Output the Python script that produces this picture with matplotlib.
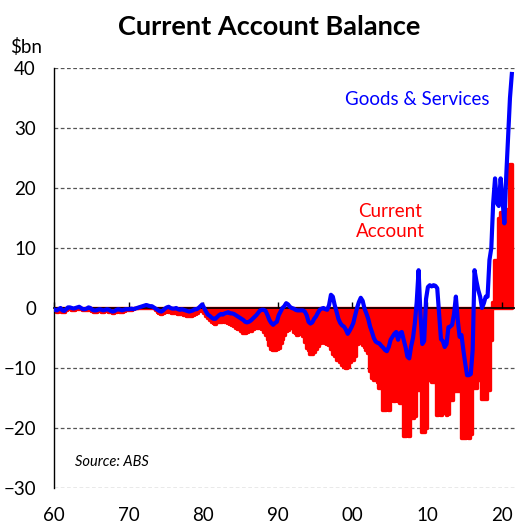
import numpy as np
import matplotlib
matplotlib.use("Agg")
import matplotlib.pyplot as plt

plt.rcParams['font.family'] = ['Lato', 'DejaVu Sans']

# Goods & services balance, $bn, quarterly (Q1..Q4 per row)
gs_1960s = [-0.3, -0.4, -0.2, 0.0, -0.4, -0.5, -0.2, 0.1, 0.1, 0.0, -0.1, 0.0,
            0.1, 0.2, 0.0, -0.2, -0.2, -0.1, 0.1, 0.0, -0.3, -0.4, -0.4, -0.3,
            -0.2, -0.3, -0.4, -0.3, -0.2, -0.3, -0.5, -0.6, -0.5, -0.3, -0.2, -0.3,
            -0.4, -0.3, -0.2, -0.2]
gs_1970s = [-0.2, -0.1, -0.2, -0.1, 0.0, 0.1, 0.2, 0.3, 0.4, 0.5, 0.4, 0.3,
            0.3, 0.1, -0.1, -0.3, -0.5, -0.6, -0.4, -0.1, 0.1, 0.2, 0.0, -0.1,
            -0.1, 0.0, -0.2, -0.3, -0.2, -0.3, -0.4, -0.5, -0.6, -0.5, -0.4, -0.2,
            -0.2, 0.0, 0.3, 0.6]
gs_1980s = [0.0, -0.6, -1.1, -1.3, -1.6, -1.8, -1.8, -1.5, -1.2, -1.0, -1.1, -0.9,
            -0.8, -0.7, -0.9, -0.9, -1.0, -1.2, -1.4, -1.6, -1.8, -2.0, -2.3, -2.4,
            -2.3, -2.1, -1.8, -1.5, -1.2, -0.8, -0.4, -0.3, -0.3, -0.5, -1.2, -2.0,
            -2.5, -2.8, -2.5, -2.3]
gs_1990s = [-1.2, -0.6, 0.0, 0.3, 0.8, 0.6, 0.2, 0.0, -0.1, -0.3, -0.4, -0.4,
            -0.4, -0.4, -0.6, -1.2, -2.3, -2.6, -2.4, -1.8, -1.4, -0.8, -0.3, -0.1,
            0.0, -0.2, -0.3, 0.5, 2.2, 1.9, 0.5, -0.6, -1.8, -2.5, -2.9, -3.1,
            -3.6, -4.3, -3.8, -3.2]
gs_2000s = [-2.5, -1.2, 0.0, 1.0, 1.7, 1.2, -0.1, -0.9, -1.8, -3.1, -4.0, -5.0,
            -5.6, -5.8, -5.9, -6.3, -6.6, -7.0, -7.2, -6.5, -5.3, -4.8, -4.3, -4.0,
            -5.3, -4.2, -4.0, -5.3, -6.5, -8.1, -8.4, -6.4, -5.0, -2.5, 1.0, 6.3,
            -1.0, -6.0, -5.5, 1.5]
gs_2010s = [3.5, 3.8, 3.6, 3.8, 3.7, 3.3, -1.0, -5.2, -5.5, -6.5, -6.0, -3.2,
            -3.1, -2.8, -1.0, 1.9, -2.0, -4.8, -4.5, -7.0, -9.2, -11.2, -11.2, -11.0,
            -7.0, 6.3, 4.5, 3.0, 1.9, 0.0, 0.8, 1.9, 1.9, 8.0, 10.0, 17.5,
            21.6, 17.5, 17.0, 21.6]
gs_2020s = [18.0, 14.1, 22.0, 28.5, 35.0, 39.0]

# Current account balance, $bn, quarterly
ca_1960s = [-0.5, -0.6, -0.5, -0.4, -0.6, -0.7, -0.4, -0.2, -0.2, -0.3, -0.3, -0.2,
            -0.1, -0.1, -0.2, -0.4, -0.4, -0.3, -0.2, -0.3, -0.5, -0.6, -0.6, -0.5,
            -0.5, -0.6, -0.6, -0.5, -0.5, -0.6, -0.7, -0.8, -0.7, -0.6, -0.5, -0.6,
            -0.6, -0.5, -0.4, -0.4]
ca_1970s = [-0.4, -0.3, -0.2, 0.0, 0.0, 0.1, 0.2, 0.2, 0.3, 0.3, 0.2, 0.1,
            0.1, 0.0, -0.3, -0.6, -0.9, -1.0, -0.9, -0.7, -0.5, -0.6, -0.7, -0.9,
            -0.8, -0.9, -1.0, -1.0, -1.0, -1.1, -1.2, -1.3, -1.4, -1.4, -1.2, -1.0,
            -0.8, -0.5, -0.3, -0.5]
ca_1980s = [-0.9, -1.3, -1.7, -2.0, -2.3, -2.5, -2.6, -2.4, -2.3, -2.3, -2.2, -2.3,
            -2.4, -2.5, -2.6, -2.8, -3.0, -3.3, -3.5, -3.4, -3.8, -4.2, -4.2, -4.0,
            -3.9, -3.8, -3.5, -3.4, -3.4, -3.3, -3.4, -3.5, -4.0, -4.5, -5.2, -6.2,
            -6.8, -7.0, -7.0, -6.9]
ca_1990s = [-6.7, -5.8, -5.2, -4.5, -3.9, -3.7, -3.4, -3.4, -4.0, -4.2, -4.5, -4.3,
            -3.9, -4.6, -5.6, -6.6, -7.0, -7.6, -7.6, -7.3, -6.8, -6.4, -5.8, -5.6,
            -5.6, -5.8, -6.0, -6.2, -6.8, -7.6, -8.0, -8.7, -8.7, -9.0, -9.5, -9.8,
            -10.0, -9.8, -9.0, -8.7]
ca_2000s = [-8.7, -8.0, -6.0, -5.8, -5.9, -6.2, -6.5, -7.0, -7.5, -10.5, -11.7, -12.0,
            -12.0, -12.3, -13.4, -13.4, -17.0, -17.0, -16.5, -17.0, -15.1, -15.3, -15.5, -15.3,
            -15.5, -15.8, -15.5, -21.4, -21.4, -21.0, -21.4, -18.4, -18.4, -18.0, -13.7, -13.7,
            -13.7, -20.6, -20.6, -20.0]
ca_2010s = [-12.0, -12.0, -12.3, -12.3, -12.3, -17.8, -17.0, -17.8, -17.5, -16.8, -17.8, -17.6,
            -15.3, -15.3, -13.9, -13.9, -13.9, -13.9, -21.7, -21.7, -21.7, -21.2, -21.7, -21.0,
            -13.4, -13.4, -13.4, -12.0, -12.0, -15.1, -15.1, -15.1, -13.7, -13.7, -5.3, 1.0,
            8.0, 8.0, 15.0, 16.0]
ca_2020s = [16.0, 16.5, 16.5, 16.0, 24.0, 24.0]

gs = np.array(gs_1960s + gs_1970s + gs_1980s + gs_1990s + gs_2000s + gs_2010s + gs_2020s)
ca = np.array(ca_1960s + ca_1970s + ca_1980s + ca_1990s + ca_2000s + ca_2010s + ca_2020s)
t = 1960 + (np.arange(len(gs)) + 0.5) / 4

decades = [1960, 1970, 1980, 1990, 2000, 2010, 2020]
decade_labels = ['60', '70', '80', '90', '00', '10', '20']

fig = plt.figure(figsize=(5.15, 5.24), dpi=100)
ax = fig.add_axes([54/515, 36/524, 1 - 54/515, 420/524])

ax.fill_between(t, ca, 0, step='mid', color='#ff0000', edgecolor='#ff0000',
                linewidth=2.4, joinstyle='round', zorder=1)
ax.plot(t, gs, color='#0000ff', lw=3.0, solid_joinstyle='round', zorder=3)

ax.set_xlim(1960, 2021.8)
ax.set_ylim(-30, 40)
ax.set_yticks(range(-30, 41, 10))
ax.yaxis.grid(True, linestyle=(0, (3, 2)), color='#555555', lw=0.9)
ax.set_axisbelow(True)
for s in ['top', 'right', 'bottom']:
    ax.spines[s].set_visible(False)
ax.spines['left'].set_linewidth(1.0)
ax.tick_params(axis='y', length=0, pad=13, labelsize=13.5)
ax.set_xticks(decades)
ax.set_xticklabels(decade_labels)
ax.tick_params(axis='x', length=0, pad=14, labelsize=13.5)

# zero line with small ticks pointing up
sec = ax.secondary_xaxis(30/70)
sec.set_xticks(decades)
sec.tick_params(direction='in', length=4, width=1, labelbottom=False)
sec.spines['bottom'].set_linewidth(1.2)
sec.set_zorder(2.6)

ax.text(0.787, 0.924, 'Goods & Services', color='#0000ff', fontsize=13.5,
        ha='center', va='center', transform=ax.transAxes)
ax.text(0.729, 0.6345, 'Current\nAccount', color='#ff0000', fontsize=13.5,
        ha='center', va='center', linespacing=1.2, transform=ax.transAxes)
ax.text(0.046, 0.062, 'Source: ABS', fontsize=10.5, style='italic',
        ha='left', va='center', transform=ax.transAxes)

fig.text(269/515, 1 - 27/524, 'Current Account Balance', fontsize=19.5,
         fontweight='bold', ha='center', va='center')
fig.text(10/515, 1 - 47/524, '$bn', fontsize=13.5, ha='left', va='center')

fig.savefig('out.png', dpi=100)
